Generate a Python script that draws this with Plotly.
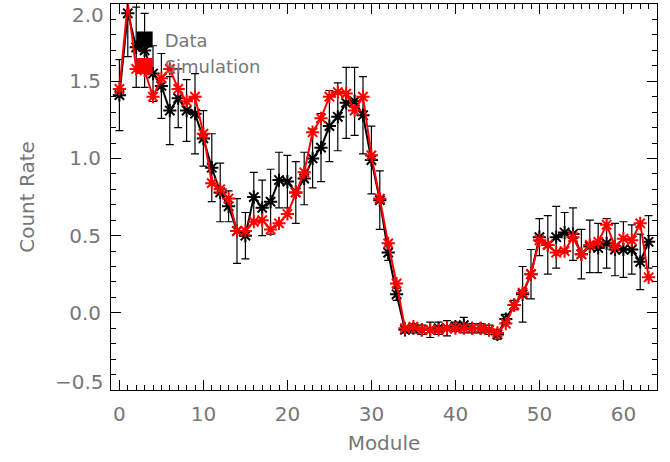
import plotly.graph_objects as go

modules = list(range(64))

data_rate = [1.41, 1.94, 1.72, 1.70, 1.55, 1.47, 1.31, 1.39, 1.31, 1.29,
             1.13, 0.94, 0.78, 0.69, 0.53, 0.50, 0.75, 0.68, 0.72, 0.86,
             0.85, 0.78, 0.87, 1.00, 1.07, 1.21, 1.27, 1.36, 1.37, 1.28,
             0.99, 0.73, 0.39, 0.12, -0.11, -0.10, -0.11, -0.11, -0.10, -0.10,
             -0.09, -0.08, -0.10, -0.10, -0.11, -0.14, -0.04, 0.05, 0.12, 0.25,
             0.49, 0.44, 0.49, 0.52, 0.51, 0.38, 0.43, 0.42, 0.45, 0.41,
             0.41, 0.41, 0.33, 0.46]

data_err = [0.23, 0.28, 0.26, 0.24, 0.18, 0.21, 0.22, 0.19, 0.20, 0.26,
            0.18, 0.22, 0.19, 0.10, 0.21, 0.15, 0.16, 0.18, 0.21, 0.18,
            0.17, 0.20, 0.17, 0.19, 0.22, 0.23, 0.22, 0.23, 0.22, 0.25,
            0.22, 0.19, 0.05, 0.04, 0.02, 0.03, 0.03, 0.05, 0.04, 0.05,
            0.03, 0.05, 0.03, 0.03, 0.03, 0.03, 0.03, 0.03, 0.18, 0.16,
            0.12, 0.19, 0.20, 0.13, 0.17, 0.16, 0.17, 0.16, 0.16, 0.17,
            0.18, 0.16, 0.18, 0.17]

sim_rate = [1.45, 2.01, 1.58, 1.57, 1.40, 1.52, 1.58, 1.45, 1.37, 1.40,
            1.16, 0.84, 0.80, 0.74, 0.53, 0.53, 0.59, 0.60, 0.54, 0.58,
            0.64, 0.78, 0.91, 1.17, 1.26, 1.40, 1.43, 1.42, 1.31, 1.40,
            1.02, 0.74, 0.45, 0.19, -0.10, -0.09, -0.11, -0.11, -0.11, -0.10,
            -0.10, -0.10, -0.10, -0.10, -0.11, -0.13, -0.07, 0.05, 0.13, 0.25,
            0.47, 0.44, 0.39, 0.40, 0.49, 0.38, 0.44, 0.46, 0.57, 0.43,
            0.48, 0.47, 0.58, 0.23]

y_tick_vals = [-0.5, 0.0, 0.5, 1.0, 1.5, 2.0]
y_tick_text = ["\u22120.5", "0.0", "0.5", "1.0", "1.5", "2.0"]

legend_names = ["Data", "Simulation"]
colors = ["black", "red"]

TXT = "#777777"
FONT = "DejaVu Sans"

fig = go.Figure()

fig.add_trace(go.Scatter(
    x=modules, y=data_rate, mode="lines+markers", showlegend=False,
    line=dict(color="black", width=2),
    marker=dict(symbol="asterisk-open", size=11, color="black",
                line=dict(color="black", width=2)),
    error_y=dict(type="data", array=data_err, color="black",
                 thickness=1.2, width=4),
))

fig.add_trace(go.Scatter(
    x=modules, y=sim_rate, mode="lines+markers", showlegend=False,
    cliponaxis=False,
    line=dict(color="red", width=2),
    marker=dict(symbol="asterisk-open", size=11, color="red",
                line=dict(color="red", width=2)),
))

for name, c in zip(legend_names, colors):
    fig.add_trace(go.Scatter(
        x=[None], y=[None], mode="markers", name=name, showlegend=True,
        marker=dict(symbol="square", size=20, color=c),
    ))

axis_common = dict(
    showline=True, linecolor="black", linewidth=1, mirror="ticks",
    ticks="inside", ticklen=10, tickcolor="black", tickwidth=1,
    showgrid=False, zeroline=False, automargin=False,
    tickfont=dict(family=FONT, size=20, color=TXT),
)

fig.update_xaxes(
    range=[-1, 64], tick0=0, dtick=10,
    minor=dict(ticks="inside", dtick=1, ticklen=5, tickcolor="black"),
    title=dict(text="Module", font=dict(family=FONT, size=20, color=TXT),
               standoff=10),
    ticklabelstandoff=6,
    **axis_common,
)

# the end labels are nudged inward (as in the original), the rest are tick labels
inner_text = [t if 0 < i < len(y_tick_text) - 1 else ""
              for i, t in enumerate(y_tick_text)]
fig.update_yaxes(
    range=[-0.5, 2.0005], tickmode="array", tickvals=y_tick_vals,
    ticktext=inner_text,
    minor=dict(ticks="inside", dtick=0.1, ticklen=5, tickcolor="black"),
    title=dict(text="Count Rate", font=dict(family=FONT, size=20, color=TXT),
               standoff=29),
    ticklabelstandoff=5,
    **axis_common,
)

fig.add_annotation(x=0, xref="paper", y=y_tick_vals[-1], yref="y",
                   text=y_tick_text[-1], showarrow=False,
                   xanchor="right", yanchor="top", xshift=-5, yshift=3,
                   font=dict(family=FONT, size=20, color=TXT))
fig.add_annotation(x=0, xref="paper", y=y_tick_vals[0], yref="y",
                   text=y_tick_text[0], showarrow=False,
                   xanchor="right", yanchor="bottom", xshift=-5, yshift=-6,
                   font=dict(family=FONT, size=20, color=TXT))

fig.update_layout(
    width=670, height=462,
    margin=dict(l=111, r=13, t=4, b=72),
    paper_bgcolor="white", plot_bgcolor="white",
    legend=dict(x=0.025, y=0.955, xanchor="left", yanchor="top",
                bgcolor="rgba(0,0,0,0)", borderwidth=0,
                font=dict(family=FONT, size=18, color=TXT),
                itemwidth=30, tracegroupgap=0),
)

fig.write_html("out.html")
